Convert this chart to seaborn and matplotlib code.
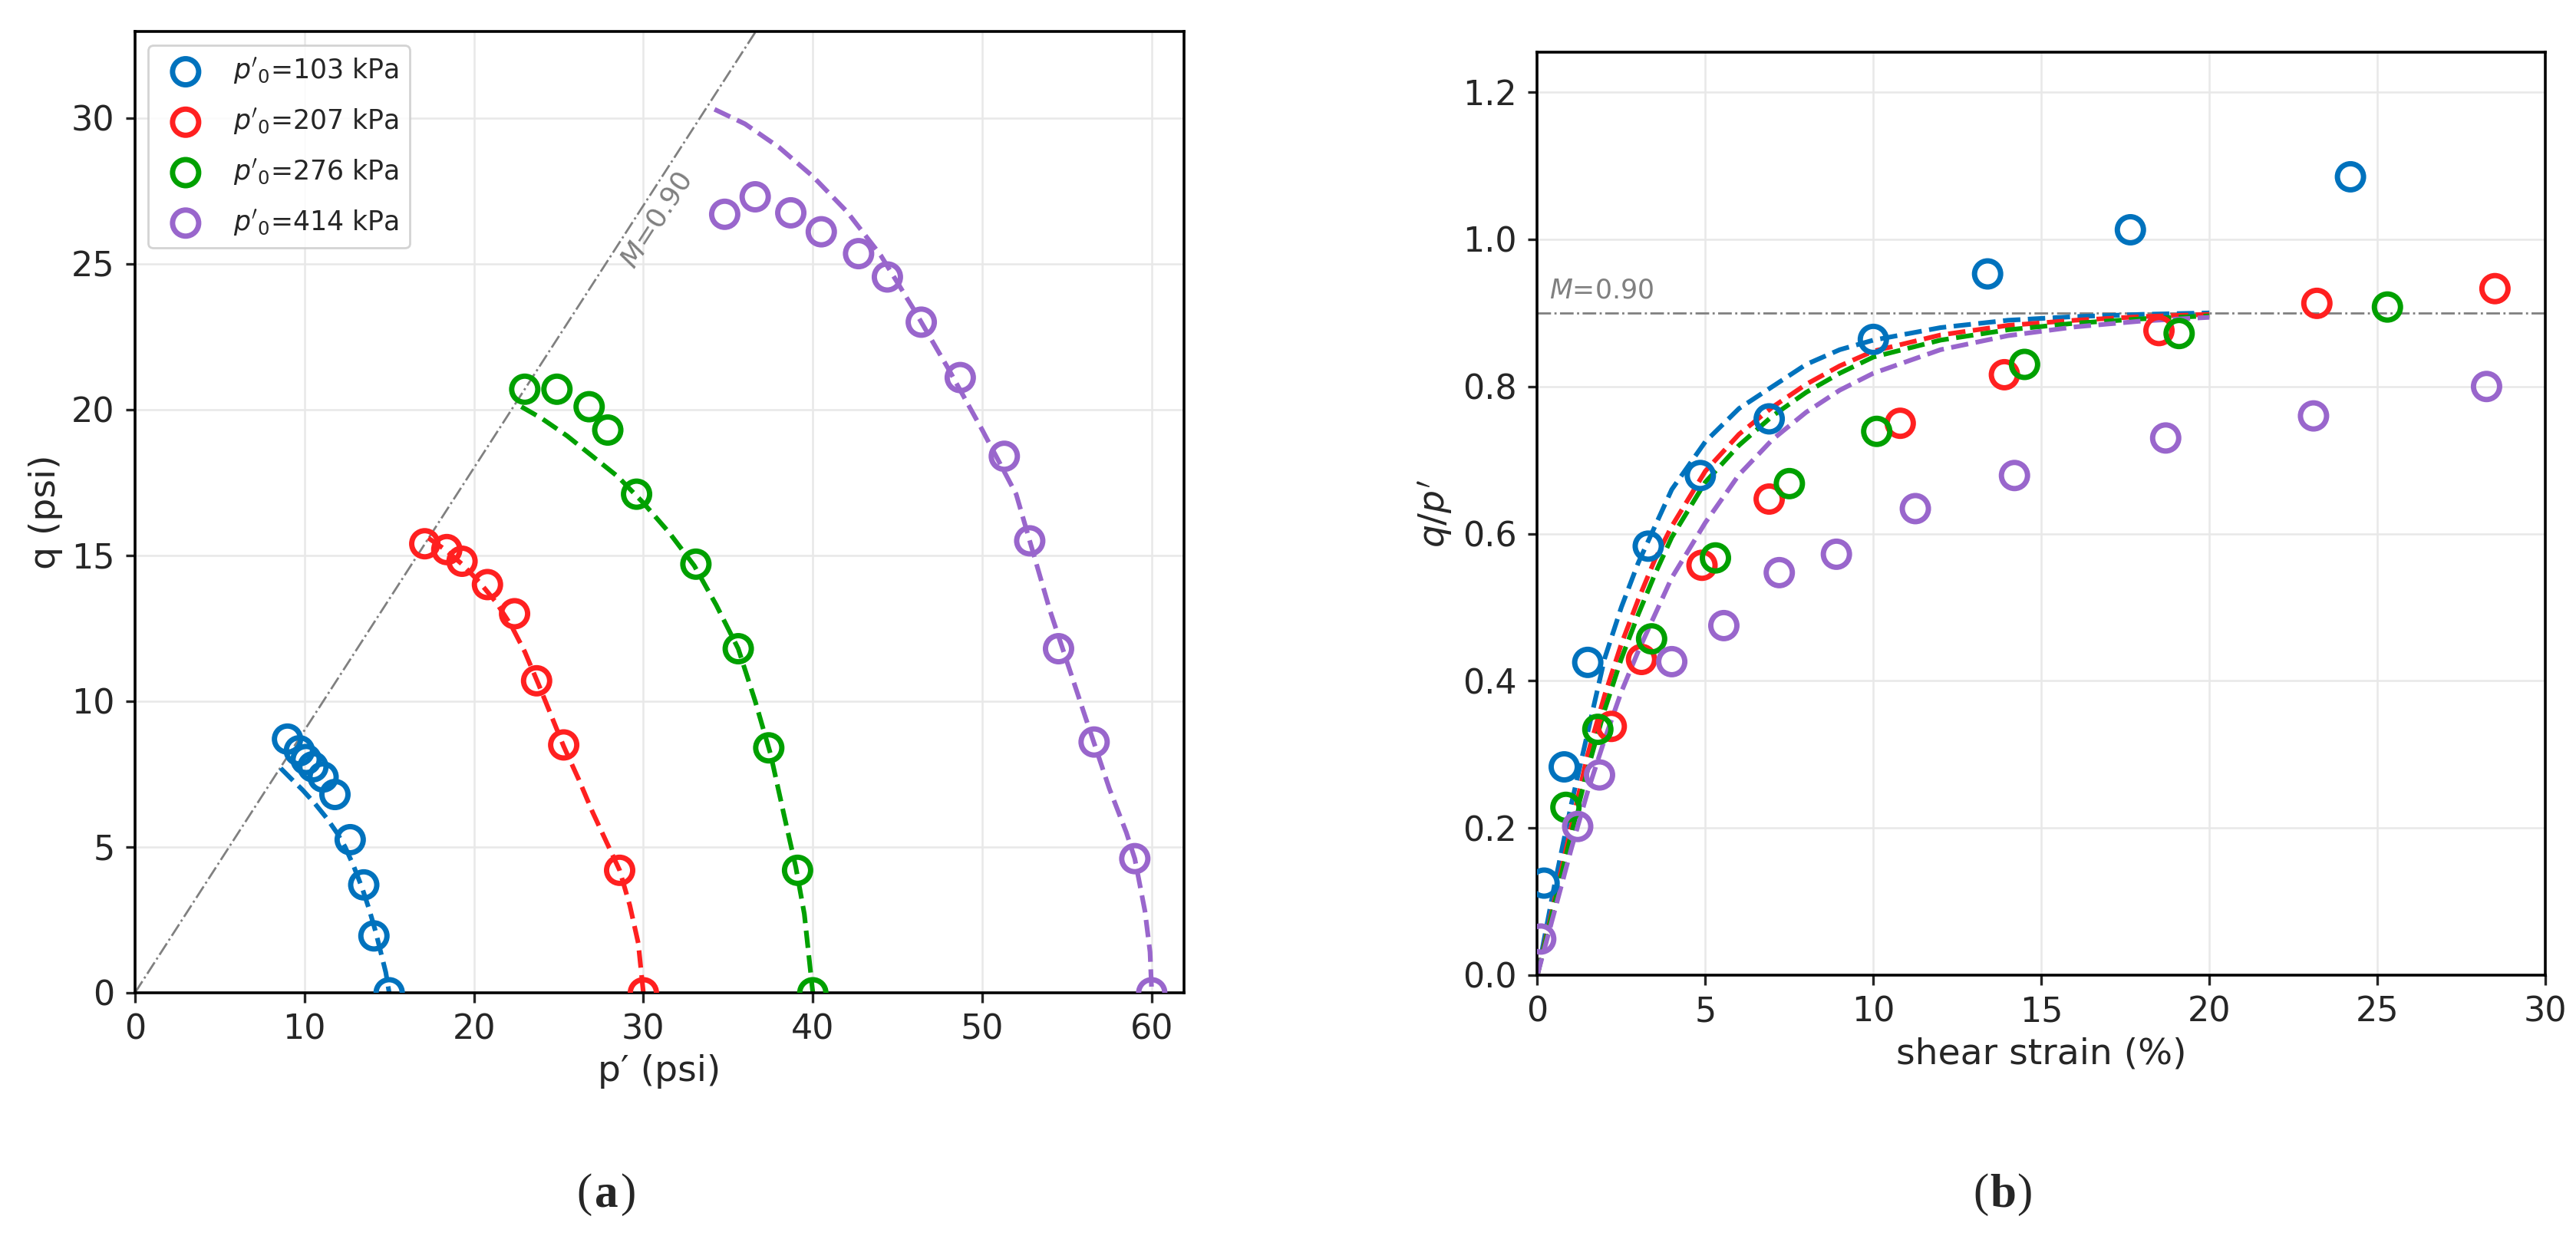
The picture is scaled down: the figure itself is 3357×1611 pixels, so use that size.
import numpy as np
import pandas as pd
import matplotlib
matplotlib.use("Agg")
import matplotlib.pyplot as plt
import matplotlib.transforms as mtransforms
import seaborn as sns

# ---- data ----
M = 0.90
labels = [r"$p'_0$=103 kPa", r"$p'_0$=207 kPa", r"$p'_0$=276 kPa", r"$p'_0$=414 kPa"]
colors = ["#0072BD", "#FF2020", "#00A000", "#9966CC"]

# (a) stress paths, test points
p_103 = [9.0, 9.7, 10.1, 10.5, 11.1, 11.8, 12.7, 13.5, 14.1, 15.0]
q_103 = [8.7, 8.3, 8.0, 7.75, 7.4, 6.8, 5.25, 3.7, 1.95, 0.0]
p_207 = [17.1, 18.4, 19.3, 20.8, 22.4, 23.7, 25.3, 28.6, 30.0]
q_207 = [15.4, 15.2, 14.8, 14.0, 13.0, 10.7, 8.5, 4.2, 0.0]
p_276 = [23.0, 24.9, 26.8, 27.9, 29.6, 33.1, 35.6, 37.4, 39.1, 40.0]
q_276 = [20.7, 20.7, 20.1, 19.3, 17.1, 14.7, 11.8, 8.4, 4.2, 0.0]
p_414 = [34.8, 36.6, 38.7, 40.5, 42.7, 44.4, 46.4, 48.7, 51.3, 52.8, 54.5, 56.6, 59.0, 60.0]
q_414 = [26.7, 27.3, 26.75, 26.1, 25.35, 24.55, 23.0, 21.1, 18.4, 15.5, 11.8, 8.6, 4.6, 0.0]

# (a) model stress paths (dashed)
mp_103 = [8.6, 9.2, 9.9, 10.6, 11.3, 11.9, 12.4, 12.9, 13.4, 13.8, 14.2, 14.5, 14.8, 15.0]
mq_103 = [7.7, 7.35, 6.95, 6.5, 6.0, 5.5, 5.0, 4.35, 3.6, 2.9, 2.1, 1.4, 0.7, 0.0]
mp_207 = [17.3, 18.3, 19.3, 20.3, 21.3, 22.2, 23.0, 23.8, 24.5, 25.3, 26.2, 27.0, 27.8, 28.6, 29.2, 29.7, 30.0]
mq_207 = [15.6, 15.2, 14.7, 14.1, 13.4, 12.6, 11.7, 10.6, 9.6, 8.45, 7.3, 6.2, 5.2, 4.2, 3.0, 1.7, 0.0]
mp_276 = [22.8, 24.0, 25.5, 27.0, 28.5, 30.0, 31.5, 33.0, 34.3, 35.6, 36.6, 37.5, 38.3, 39.0, 39.5, 40.0]
mq_276 = [20.1, 19.7, 19.1, 18.4, 17.7, 16.8, 15.8, 14.65, 13.3, 11.8, 10.0, 8.2, 6.1, 4.3, 2.7, 0.0]
mp_414 = [34.2, 36.0, 38.0, 40.0, 42.0, 44.0, 46.0, 48.0, 50.0, 52.0, 54.0, 56.0, 57.5, 58.5, 59.0, 59.6, 59.9, 60.0]
mq_414 = [30.3, 29.8, 29.0, 28.0, 26.8, 25.3, 23.4, 21.4, 19.3, 17.1, 13.1, 9.6, 7.0, 5.5, 4.6, 2.8, 1.4, 0.0]

# (b) stress ratio vs shear strain, test points
e_103 = [0.2, 0.8, 1.5, 3.3, 4.85, 6.9, 10.0, 13.4, 17.65, 24.2]
r_103 = [0.125, 0.283, 0.425, 0.583, 0.679, 0.756, 0.864, 0.953, 1.013, 1.085]
e_207 = [2.2, 3.1, 4.9, 6.9, 10.8, 13.9, 18.5, 23.2, 28.5]
r_207 = [0.338, 0.429, 0.557, 0.647, 0.75, 0.816, 0.876, 0.913, 0.933]
e_276 = [0.85, 1.8, 3.4, 5.3, 7.5, 10.1, 14.5, 19.1, 25.3]
r_276 = [0.228, 0.334, 0.457, 0.567, 0.668, 0.739, 0.83, 0.872, 0.908]
e_414 = [0.1, 1.2, 1.85, 4.0, 5.55, 7.2, 8.9, 11.25, 14.2, 18.7, 23.1, 28.25]
r_414 = [0.049, 0.202, 0.272, 0.426, 0.475, 0.547, 0.572, 0.634, 0.679, 0.73, 0.76, 0.80]

# (b) model curves (dashed)
strain_model = [0, 0.5, 1.0, 1.5, 2.0, 2.5, 3.0, 3.5, 4.0, 5.0, 6.0, 7.0, 8.0, 9.0, 10.0, 12.0, 14.0, 16.0, 18.0, 20.0]
mr_103 = [0, 0.12, 0.23, 0.33, 0.43, 0.5, 0.56, 0.61, 0.66, 0.725, 0.77, 0.80, 0.83, 0.85, 0.863, 0.88, 0.89, 0.895, 0.898, 0.9]
mr_207 = [0, 0.1, 0.2, 0.3, 0.38, 0.45, 0.51, 0.565, 0.61, 0.685, 0.735, 0.772, 0.803, 0.828, 0.848, 0.87, 0.883, 0.89, 0.895, 0.898]
mr_276 = [0, 0.095, 0.19, 0.28, 0.36, 0.43, 0.49, 0.545, 0.595, 0.67, 0.72, 0.76, 0.792, 0.818, 0.84, 0.863, 0.877, 0.886, 0.892, 0.896]
mr_414 = [0, 0.085, 0.17, 0.25, 0.32, 0.385, 0.44, 0.49, 0.54, 0.615, 0.68, 0.728, 0.765, 0.795, 0.818, 0.85, 0.869, 0.881, 0.889, 0.894]

pts_a = [(p_103, q_103), (p_207, q_207), (p_276, q_276), (p_414, q_414)]
mod_a = [(mp_103, mq_103), (mp_207, mq_207), (mp_276, mq_276), (mp_414, mq_414)]
pts_b = [(e_103, r_103), (e_207, r_207), (e_276, r_276), (e_414, r_414)]
mod_b = [mr_103, mr_207, mr_276, mr_414]

# ---- style ----
sns.set_theme(style="ticks")
plt.rcParams["font.family"] = ["DejaVu Sans"]
plt.rcParams["mathtext.fontset"] = "dejavusans"
plt.rcParams.update({
    "axes.edgecolor": "black",
    "axes.linewidth": 1.3,
    "xtick.major.size": 4.5,
    "ytick.major.size": 4.5,
    "xtick.major.width": 1.2,
    "ytick.major.width": 1.2,
    "xtick.major.pad": 5,
    "ytick.major.pad": 5,
    "xtick.labelsize": 16,
    "ytick.labelsize": 16,
    "axes.labelsize": 17,
})

fig = plt.figure(figsize=(16.785, 8.055), dpi=200)
ax1 = fig.add_axes([0.0524, 0.1968, 0.4072, 0.7775])
ax2 = fig.add_axes([0.5968, 0.2111, 0.3913, 0.7467])

grid_kw = dict(color="#e8e8e8", linewidth=0.9)
ms = 150
mew = 2.5

# (a)
for (px, qy), (mx, my), c, lab in zip(pts_a, mod_a, colors, labels):
    sns.lineplot(x=mx, y=my, ax=ax1, sort=False, estimator=None, color=c,
                 linestyle="--", linewidth=2.2)
    sns.scatterplot(x=px, y=qy, ax=ax1, s=ms, facecolor="none", edgecolor=c,
                    linewidth=mew, label=lab, zorder=3)
ax1.axline((0, 0), slope=M, color="#808080", linestyle="-.", linewidth=1.0, zorder=1)
ax1.text(30.8, 26.5, r"$M$=0.90", rotation=57, ha="center", va="center",
         color="#808080", fontsize=13)
ax1.set_xlim(0, 61.9)
ax1.set_ylim(0, 32.96)
ax1.set_xticks([0, 10, 20, 30, 40, 50, 60])
ax1.set_yticks([0, 5, 10, 15, 20, 25, 30])
ax1.grid(True, **grid_kw)
ax1.set_axisbelow(True)
ax1.set_xlabel("p\u2032 (psi)")
ax1.set_ylabel("q (psi)")
leg = ax1.legend(loc="upper left", fontsize=12.5, labelspacing=0.75,
                 frameon=True, fancybox=True, framealpha=0.85, edgecolor="#cccccc")

# (b)
for (ex, ry), mr, c in zip(pts_b, mod_b, colors):
    sns.lineplot(x=strain_model, y=mr, ax=ax2, sort=False, estimator=None, color=c,
                 linestyle="--", linewidth=2.2)
    sns.scatterplot(x=ex, y=ry, ax=ax2, s=ms, facecolor="none", edgecolor=c,
                    linewidth=mew, zorder=3)
ax2.axhline(M, color="#808080", linestyle="-.", linewidth=1.0, zorder=1)
ax2.text(0.35, 0.913, r"$M$=0.90", ha="left", va="bottom", color="#808080", fontsize=12.5)
ax2.set_xlim(0, 30)
ax2.set_ylim(0, 1.2544)
ax2.set_xticks([0, 5, 10, 15, 20, 25, 30])
ax2.set_yticks([0.0, 0.2, 0.4, 0.6, 0.8, 1.0, 1.2])
ax2.set_yticklabels(["0.0", "0.2", "0.4", "0.6", "0.8", "1.0", "1.2"])
ax2.grid(True, **grid_kw)
ax2.set_axisbelow(True)
ax2.set_xlabel("shear strain (%)")
ax2.set_ylabel(r"$q/p'$")
if ax2.get_legend() is not None:
    ax2.get_legend().remove()

for ax in (ax1, ax2):
    for s in ax.spines.values():
        s.set_visible(True)
        s.set_color("black")

# panel tags: regular parentheses around a bold letter
for xc, letter in [(0.2353, "a"), (0.7775, "b")]:
    fig.text(xc, 0.0335, letter, ha="center", va="center", fontsize=22,
             family="Liberation Serif", fontweight="bold")
    left = mtransforms.offset_copy(fig.transFigure, fig=fig, x=-6.5, y=0, units="points")
    right = mtransforms.offset_copy(fig.transFigure, fig=fig, x=6.5, y=0, units="points")
    fig.text(xc, 0.0335, "(", ha="right", va="center", fontsize=22,
             family="Liberation Serif", transform=left)
    fig.text(xc, 0.0335, ")", ha="left", va="center", fontsize=22,
             family="Liberation Serif", transform=right)

fig.savefig("out.png", dpi=200)
